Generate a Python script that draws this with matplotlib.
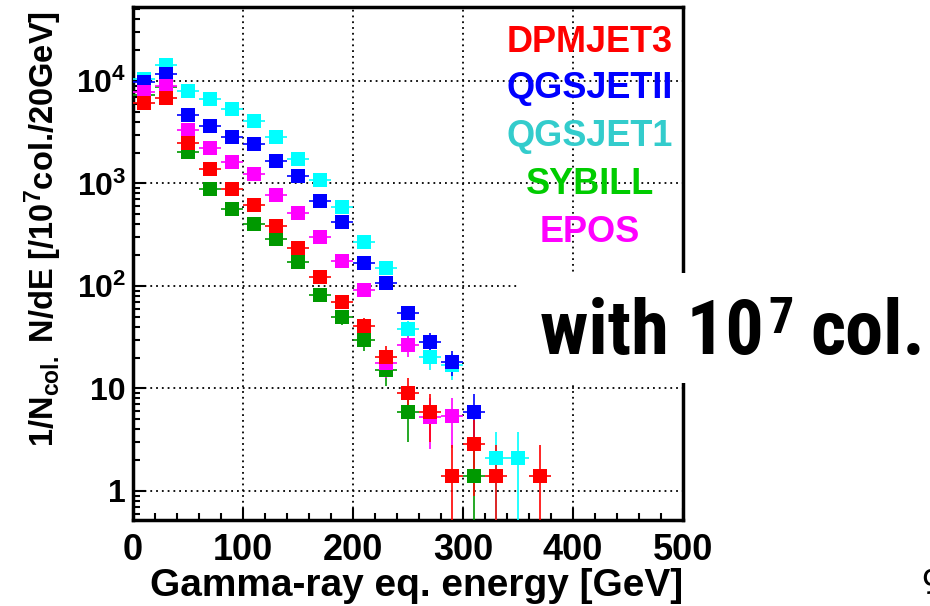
import numpy as np
import matplotlib
matplotlib.use('Agg')
import matplotlib.pyplot as plt
from matplotlib.patches import Rectangle
from matplotlib.text import Annotation
from matplotlib.ticker import FixedLocator, FixedFormatter, MultipleLocator, LogLocator, NullFormatter

nan = np.nan

# bin centres [GeV], 20 GeV bins
energy = np.arange(10, 380, 20)

# 1/Ncol dN/dE per 10^7 collisions, nan = empty bin
dpmjet3 = [6060, 6780, 2500, 1385, 883, 617, 385, 233, 123, 70, 40.7, 20.4, 9.0, 5.9, 1.4, 2.9, 1.4, nan, 1.4]
qgsjet2 = [9840, 11700, 4660, 3640, 2860, 2430, 1660, 1190, 670, 424, 169, 106, 55, 28.2, 18.2, 5.9, nan, nan, nan]
qgsjet1 = [10500, 14300, 8040, 6720, 5300, 4100, 2820, 1720, 1080, 594, 267, 149, 37.8, 20.4, 17, nan, 2.09, 2.09, nan]
sybill = [7300, 8740, 2040, 877, 560, 400, 286, 173, 82, 49.5, 29.7, 15.1, 5.9, nan, nan, 1.4, nan, nan, nan]
epos = [7870, 8940, 3330, 2200, 1630, 1240, 773, 512, 299, 175, 91, 17.6, 26.6, 5.3, 5.4, nan, nan, nan, nan]

models = ['DPMJET3', 'QGSJETII', 'QGSJET1', 'SYBILL', 'EPOS']
xticks = [0, 100, 200, 300, 400, 500]
yticks = [1, 10, 100, 1000, 10000]
ytick_labels = ['1', '10', '$10^{2}$', '$10^{3}$', '$10^{4}$']
count_unit = 1.4  # value of one event per 10^7 col.

plt.rcParams['font.family'] = ['Liberation Sans', 'DejaVu Sans']
plt.rcParams['font.weight'] = 'bold'
plt.rcParams['mathtext.fontset'] = 'custom'
plt.rcParams['mathtext.rm'] = 'Liberation Sans:bold'
plt.rcParams['mathtext.it'] = 'Liberation Sans:bold'
plt.rcParams['mathtext.bf'] = 'Liberation Sans:bold'
plt.rcParams['mathtext.default'] = 'rm'

fig = plt.figure(figsize=(9.3, 6.06), dpi=100)
ax = fig.add_axes([133/930, 1-520/606, 550/930, 513/606])

def draw(vals, col):
    v = np.array(vals, dtype=float)
    err = np.sqrt(v*count_unit)
    lo = np.minimum(err, v*0.99999)
    ax.errorbar(energy, v, xerr=10, yerr=[lo, err], fmt='s', color=col, ms=10,
                mew=0, elinewidth=1.2, capsize=0, zorder=3)

# drawing order: last one on top
draw(qgsjet1, '#00ffff')
draw(qgsjet2, '#0000ff')
draw(sybill, '#009900')
draw(epos, '#ff00ff')
draw(dpmjet3, '#ff0000')

ax.set_yscale('log')
ax.set_xlim(0, 500)
ax.set_ylim(0.521, 52700)
ax.xaxis.set_major_locator(FixedLocator(xticks))
ax.xaxis.set_minor_locator(MultipleLocator(20))
ax.yaxis.set_major_locator(FixedLocator(yticks))
ax.yaxis.set_major_formatter(FixedFormatter(ytick_labels))
ax.yaxis.set_minor_locator(LogLocator(subs=np.arange(2, 10)))
ax.yaxis.set_minor_formatter(NullFormatter())
ax.tick_params(which='both', direction='in', top=False, right=False, width=1.5, color='black')
ax.tick_params(which='major', length=9)
ax.tick_params(which='minor', length=5)
ax.tick_params(axis='x', labelsize=26, pad=9)
ax.tick_params(axis='y', labelsize=23, pad=5)
for s in ax.spines.values():
    s.set_linewidth(2.5)
ax.grid(True, which='major', color='black', linestyle=(0, (1, 2.2)), linewidth=1.3)
ax.set_axisbelow(True)

ax.set_xlabel('Gamma-ray eq. energy [GeV]', fontsize=28, fontweight='bold')
ax.xaxis.set_label_coords(1.0, (520-596)/513)
ax.xaxis.label.set_ha('right')
ax.xaxis.label.set_va('baseline')
fig.text(43/930, 1-229/606, r'1/N$_{\mathrm{col.}}$ N/dE [/10$^{7}$col./20GeV]',
         rotation=90, ha='center', va='center', fontsize=23.5, fontweight='bold')

# model labels
label_cols = ['#ff0000', '#0000ff', '#33cccc', '#00cc00', '#ff00ff']
label_y = [42, 88, 137, 185, 233]
for name, c, yy in zip(models, label_cols, label_y):
    fig.text(590/930, 1-yy/606, name, color=c, ha='center', va='center', fontsize=26, fontweight='bold')

# white overlay with note
note_font = ['Roboto Condensed', 'Roboto']
fig.add_artist(Rectangle((518/930, 1-383/606), 412/930, 110/606, transform=fig.transFigure,
                         facecolor='white', edgecolor='none', zorder=5))
t1 = fig.text(540/930, 1-354/606, 'with 10', family=note_font, fontweight='bold', fontsize=55,
              ha='left', va='baseline', zorder=6)
t2 = Annotation('7', xy=(1, 606-333), xycoords=(t1, 'figure pixels'), xytext=(3, 0),
                textcoords='offset points', family=note_font, fontweight='bold',
                fontsize=36, ha='left', va='baseline', zorder=6)
fig.add_artist(t2)
fig.add_artist(Annotation('col.', xy=(1, 606-354), xycoords=(t2, 'figure pixels'), xytext=(12, 0),
                          textcoords='offset points', family=note_font, fontweight='bold',
                          fontsize=55, ha='left', va='baseline', zorder=6))
fig.text(921/930, 1-594/606, '9', family='Roboto', fontweight='normal', fontsize=25, ha='left', va='baseline')

fig.savefig('out.png', dpi=100, facecolor='white')
